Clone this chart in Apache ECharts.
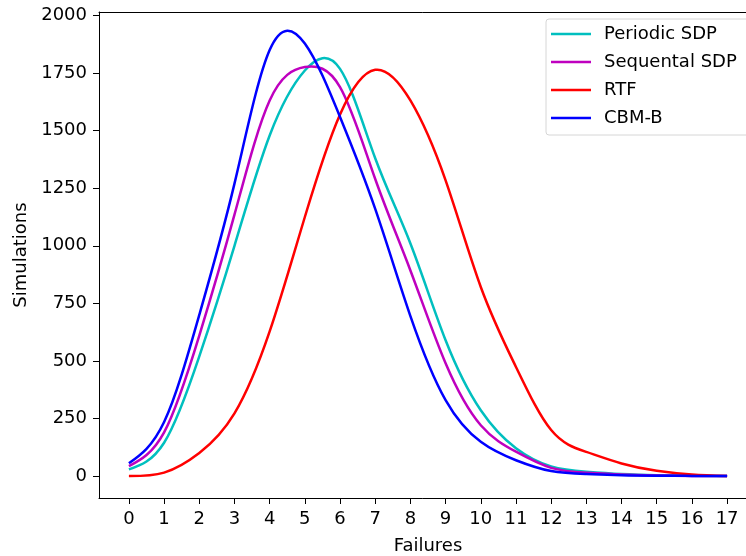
<!DOCTYPE html>
<html>
<head>
<meta charset="utf-8">
<title>Failures</title>
<script src="https://cdn.jsdelivr.net/npm/echarts@6/dist/echarts.min.js"></script>
<style>
  html, body { margin: 0; padding: 0; background: #fff; }
  #chart { width: 746px; height: 556px; }
</style>
</head>
<body>
<div id="chart"></div>
<script>
// failures 0..17
var failures = [0, 1, 2, 3, 4, 5, 6, 7, 8, 9, 10, 11, 12, 13, 14, 15, 16, 17];
var yTicks = [0, 250, 500, 750, 1000, 1250, 1500, 1750, 2000];

var seriesNames = ["Periodic SDP", "Sequental SDP", "RTF", "CBM-B"];
var periodicSDP = [29, 145, 520, 1000, 1479, 1761, 1768, 1380, 1010, 590, 286, 121, 42, 19, 9, 4, 2, 0];
var sequentalSDP = [43, 190, 610, 1135, 1631, 1776, 1689, 1290, 893, 490, 221, 106, 36, 15, 7, 3, 1, 0];
var rtf = [0, 15, 100, 272, 628, 1125, 1570, 1764, 1631, 1284, 821, 474, 200, 105, 55, 23, 7, 0];
var cbmB = [56, 235, 700, 1270, 1850, 1878, 1559, 1160, 695, 330, 149, 69, 22, 9, 4, 2, 1, 0];

var colors = ["#00bfbf", "#bf00bf", "#ff0000", "#0000ff"];
var allValues = [periodicSDP, sequentalSDP, rtf, cbmB];

var font = "DejaVu Sans";
var fontSize = 18;

// natural cubic spline slopes at each knot (unit spacing)
function splineSlopes(y) {
  var n = y.length - 1;
  // tridiagonal solve for second derivatives, M0 = Mn = 0
  var M = [];
  for (var i = 0; i <= n; i++) M.push(0);
  var cp = [], dp = [];
  for (var k = 1; k < n; k++) {
    var rhs = 6 * (y[k + 1] - 2 * y[k] + y[k - 1]);
    var denom = 4 - (k > 1 ? cp[k - 1] : 0);
    cp[k] = 1 / denom;
    dp[k] = (rhs - (k > 1 ? dp[k - 1] : 0)) / denom;
  }
  M[n - 1] = dp[n - 1];
  for (var j = n - 2; j >= 1; j--) {
    M[j] = dp[j] - cp[j] * M[j + 1];
  }
  var m = [];
  for (var q = 0; q < n; q++) {
    m.push((y[q + 1] - y[q]) - (2 * M[q] + M[q + 1]) / 6);
  }
  m.push((y[n] - y[n - 1]) + (M[n - 1] + 2 * M[n]) / 6);
  return m;
}

function makeRender(xs, ys, color) {
  var m = splineSlopes(ys);
  return function (params, api) {
    if (params.dataIndex !== 0) return null;
    var p0 = api.coord([xs[0], ys[0]]);
    var d = "M" + p0[0] + " " + p0[1];
    for (var i = 0; i < xs.length - 1; i++) {
      var h = xs[i + 1] - xs[i];
      var c1 = api.coord([xs[i] + h / 3, ys[i] + m[i] * h / 3]);
      var c2 = api.coord([xs[i + 1] - h / 3, ys[i + 1] - m[i + 1] * h / 3]);
      var p1 = api.coord([xs[i + 1], ys[i + 1]]);
      d += " C" + c1[0] + " " + c1[1] + " " + c2[0] + " " + c2[1] + " " + p1[0] + " " + p1[1];
    }
    return {
      type: "path",
      shape: { pathData: d },
      style: { stroke: color, fill: null, lineWidth: 2.5, lineJoin: "round" }
    };
  };
}

var chart = echarts.init(document.getElementById("chart"), null, { renderer: "canvas" });

var series = seriesNames.map(function (name, i) {
  return {
    name: name,
    type: "custom",
    coordinateSystem: "cartesian2d",
    data: failures.map(function (f, k) { return [f, allValues[i][k]]; }),
    encode: { x: 0, y: 1 },
    renderItem: makeRender(failures, allValues[i], colors[i]),
    itemStyle: { color: colors[i] },
    z: 2 + i
  };
});

var option = {
  backgroundColor: "#fff",
  animation: false,
  textStyle: { fontFamily: font },
  grid: {
    left: 99,
    top: 12,
    width: 658,
    height: 486,
    outerBoundsMode: "none"
  },
  legend: {
    data: seriesNames,
    orient: "vertical",
    left: 546,
    top: 19,
    padding: [5, 20, 7, 5],
    itemGap: 8,
    itemWidth: 40,
    itemHeight: 2.5,
    icon: "rect",
    backgroundColor: "rgba(255,255,255,0.8)",
    borderColor: "#d6d6d6",
    borderWidth: 1,
    borderRadius: 3,
    textStyle: {
      color: "#000",
      fontSize: fontSize,
      fontFamily: font,
      lineHeight: 20,
      padding: [0, 0, 0, 8]
    }
  },
  xAxis: [
    {
      type: "value",
      min: -0.85,
      max: 17.85,
      name: "Failures",
      nameLocation: "middle",
      nameGap: 39,
      nameTextStyle: { color: "#000", fontSize: fontSize, fontFamily: font },
      axisLine: { show: true, onZero: false, lineStyle: { color: "#000", width: 1 } },
      axisTick: { show: true, length: 6, customValues: failures, lineStyle: { color: "#000" } },
      axisLabel: { customValues: failures, color: "#000", fontSize: fontSize, margin: 12, fontFamily: font },
      splitLine: { show: false }
    },
    {
      type: "value",
      position: "top",
      min: -0.85,
      max: 17.85,
      axisLine: { show: true, onZero: false, lineStyle: { color: "#000", width: 1 } },
      axisTick: { show: false },
      axisLabel: { show: false },
      splitLine: { show: false }
    }
  ],
  yAxis: [
    {
      type: "value",
      min: -95,
      max: 2015,
      name: "Simulations",
      nameLocation: "middle",
      nameGap: 69,
      nameTextStyle: { color: "#000", fontSize: fontSize, fontFamily: font },
      axisLine: { show: true, onZero: false, lineStyle: { color: "#000", width: 1 } },
      axisTick: { show: true, length: 6, customValues: yTicks, lineStyle: { color: "#000" } },
      axisLabel: {
        customValues: yTicks,
        color: "#000",
        fontSize: fontSize,
        margin: 12,
        fontFamily: font,
        formatter: function (v) { return String(v); }
      },
      splitLine: { show: false }
    }
  ],
  series: series
};

chart.setOption(option);
</script>
</body>
</html>
